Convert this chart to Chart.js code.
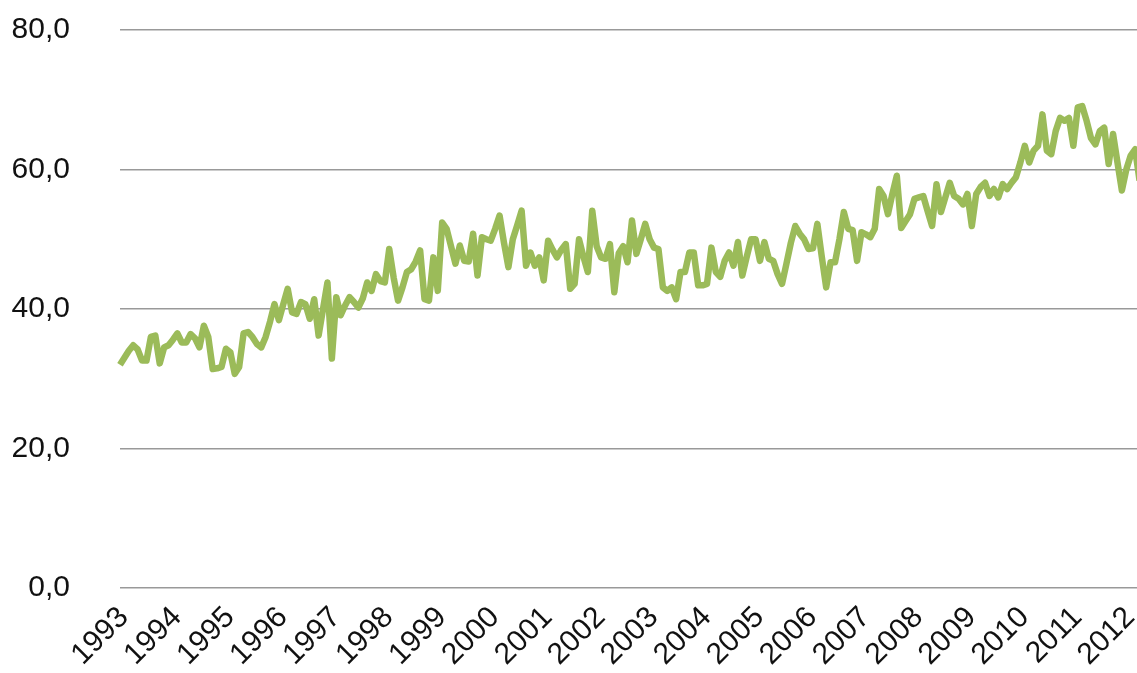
<!DOCTYPE html>
<html>
<head>
<meta charset="utf-8">
<script src="https://cdn.jsdelivr.net/npm/chart.js@4/dist/chart.umd.min.js"></script>
<style>
  html, body { margin: 0; padding: 0; background: #fff; overflow: hidden; }
  /* canvas is a bit larger than the window so the plot fills it edge to edge */
  #wrap { position: absolute; left: 0; top: -38px; width: 1169px; height: 711px; }
</style>
</head>
<body>
<div id="wrap"><canvas id="chart"></canvas></div>
<script>
// tick labels on the x axis (one per January)
const years = ['1993','1994','1995','1996','1997','1998','1999','2000','2001','2002',
               '2003','2004','2005','2006','2007','2008','2009','2010','2011','2012'];

// monthly values, Jan 1993 onwards
const values1993_1997 = [
  32.0, 33.0, 34.0, 34.8, 34.2, 32.6, 32.6, 36.0, 36.2, 32.2, 34.5, 34.8,
  35.6, 36.5, 35.2, 35.2, 36.4, 35.8, 34.5, 37.6, 36.0, 31.4, 31.5, 31.7,
  34.3, 33.8, 30.7, 31.7, 36.5, 36.7, 36.0, 35.0, 34.5, 36.0, 38.2, 40.7,
  38.4, 40.7, 42.9, 39.5, 39.3, 41.0, 40.7, 38.6, 41.4, 36.2, 40.0, 43.8,
  32.9, 41.7, 39.1, 40.5, 41.7, 41.0, 40.2, 41.5, 43.8, 42.6, 45.0, 44.0
];
const values1998_2002 = [
  43.8, 48.6, 44.5, 41.2, 43.1, 45.3, 45.7, 46.8, 48.4, 41.4, 41.2, 47.4,
  42.6, 52.4, 51.5, 49.0, 46.5, 49.1, 46.9, 46.8, 50.8, 44.8, 50.3, 50.0,
  49.8, 51.5, 53.4, 49.5, 46.0, 50.0, 52.0, 54.1, 46.2, 48.1, 46.2, 47.4,
  44.1, 49.8, 48.5, 47.4, 48.5, 49.3, 42.9, 43.6, 50.0, 47.5, 45.3, 54.1,
  49.0, 47.4, 47.2, 49.3, 42.4, 48.0, 49.0, 46.7, 52.7, 47.9, 50.0, 52.2
];
const values2003_2007 = [
  50.0, 48.8, 48.6, 43.1, 42.6, 43.1, 41.4, 45.3, 45.3, 48.1, 48.1, 43.4,
  43.4, 43.6, 48.8, 45.3, 44.6, 46.9, 48.1, 46.2, 49.6, 44.8, 47.5, 50.0,
  50.0, 46.9, 49.6, 47.2, 46.9, 45.0, 43.6, 46.5, 49.5, 51.9, 50.8, 50.0,
  48.6, 48.7, 52.2, 47.5, 43.1, 46.7, 46.7, 50.0, 53.9, 51.5, 51.3, 46.9,
  51.0, 50.7, 50.3, 51.5, 57.2, 56.2, 53.6, 56.5, 59.1, 51.6, 52.6, 53.6
];
const values2008_2012 = [
  55.8, 56.0, 56.2, 54.0, 51.9, 57.9, 53.9, 56.0, 58.1, 56.2, 55.8, 55.0,
  56.5, 51.9, 56.5, 57.5, 58.1, 56.2, 57.2, 56.0, 57.9, 57.2, 58.1, 58.9,
  61.0, 63.4, 61.0, 62.7, 63.4, 67.9, 62.7, 62.2, 65.5, 67.4, 67.0, 67.4,
  63.4, 68.9, 69.1, 67.0, 64.5, 63.6, 65.5, 66.0, 60.8, 65.1, 61.0, 57.0,
  60.0, 62.0, 62.9, 58.4
];
const values = [].concat(values1993_1997, values1998_2002, values2003_2007, values2008_2012);

// y axis
const yMin = 0, yMax = 80, yStep = 20;

// one category per month
const months = [];
for (let i = 0; i < values.length; i++) {
  months.push(years[Math.floor(i / 12)] + '-' + String(i % 12 + 1).padStart(2, '0'));
}

const ctx = document.getElementById('chart');
new Chart(ctx, {
  type: 'line',
  data: {
    labels: months,
    datasets: [{
      data: values,
      borderColor: '#9BBB59',
      borderWidth: 6.5,
      pointRadius: 0,
      tension: 0,
      borderJoinStyle: 'round',
      borderCapStyle: 'butt'
    }]
  },
  options: {
    responsive: true,
    maintainAspectRatio: false,
    animation: false,
    layout: { padding: 0 },
    plugins: {
      legend: { display: false },
      tooltip: { enabled: false }
    },
    scales: {
      x: {
        offset: false,
        grid: { display: false },
        border: { display: false },
        ticks: {
          autoSkip: false,
          minRotation: 45,
          maxRotation: 45,
          labelOffset: 4,
          padding: 4,
          color: '#111',
          font: { family: 'Liberation Sans, Arial, sans-serif', size: 30 },
          callback: function (val, i) {
            return i % 12 === 0 ? years[i / 12] : '';
          }
        },
        afterFit: function (scale) { scale.height = 85; }
      },
      y: {
        min: yMin,
        max: yMax,
        border: { display: false },
        grid: { color: '#999', lineWidth: 1.5, drawTicks: false },
        ticks: {
          stepSize: yStep,
          padding: 50,
          color: '#111',
          font: { family: 'Liberation Sans, Arial, sans-serif', size: 30 },
          callback: function (v) { return v.toFixed(1).replace('.', ','); }
        },
        afterFit: function (scale) { scale.width = 120; }
      }
    }
  }
});
</script>
</body>
</html>
